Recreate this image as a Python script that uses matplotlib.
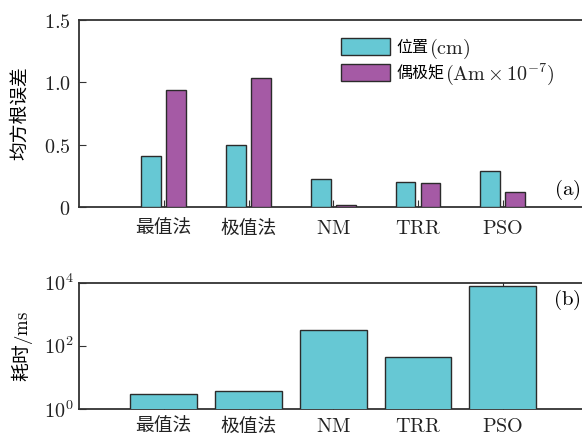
import matplotlib
matplotlib.use("Agg")
import matplotlib.pyplot as plt
import numpy as np

plt.rcParams['font.family'] = ['Noto Sans CJK SC', 'DejaVu Serif']
plt.rcParams['mathtext.fontset'] = 'cm'

methods = ['最值法', '极值法', 'NM', 'TRR', 'PSO']
rmse_position = [0.41, 0.497, 0.228, 0.20, 0.289]
rmse_moment = [0.936, 1.032, 0.014, 0.19, 0.12]
time_ms = [2.98, 3.87, 320, 44, 8040]
# legend entries: Chinese name + unit (unit typeset in Computer Modern)
series_names = ['位置', '偶极矩']
series_units = ['$\\mathrm{(cm)}$',
                '$\\mathrm{(Am}\\,{\\times}\\,10^{-7}\\mathrm{)}$']
panel_tags = ['$\\mathrm{(a)}$', '$\\mathrm{(b)}$']


def tick_text(s):
    # Latin labels go through mathtext so they come out in Computer Modern
    return s if any(ord(c) > 127 for c in s) else '$\\mathrm{%s}$' % s


cyan = '#66C8D4'
purple = '#A55AA5'
edge = '#2b2b2b'
spine_c = '#333333'

fig = plt.figure(figsize=(5.82, 4.38), dpi=100)
W = 6 * 84.75 / 582
ax1 = fig.add_axes([79 / 582, 1 - 207 / 438, W, (207 - 20) / 438])
ax2 = fig.add_axes([79 / 582, 1 - 409.3 / 438, W, (409.3 - 282.7) / 438])

x = np.arange(1, len(methods) + 1)
bw = 0.235
off = 0.147

ax1.bar(x - off, rmse_position, bw, color=cyan, edgecolor=edge, linewidth=1.0,
        label=series_names[0], zorder=3)
ax1.bar(x + off, rmse_moment, bw, color=purple, edgecolor=edge, linewidth=1.0,
        label=series_names[1], zorder=3)
ax1.set_xlim(0, 6)
ax1.set_ylim(0, 1.5)
ax1.set_yticks([0, 0.5, 1.0, 1.5])
ax1.set_yticklabels(['$0$', '$0.5$', '$1.0$', '$1.5$'])
ax1.set_ylabel('均方根误差', fontsize=13.5, labelpad=10)
ax1.text(5.92, 0.14, panel_tags[0], fontsize=15, ha='right', va='center')

leg = ax1.legend(loc='upper left', bbox_to_anchor=(0.502, 0.94), frameon=False,
                 fontsize=11.5, handlelength=3.1, handleheight=1.3,
                 handletextpad=0.4, labelspacing=0.52, borderaxespad=0)
leg.set_zorder(5)
for txt, unit in zip(leg.get_texts(), series_units):
    # drawn after the legend so the anchor text already has its position
    ax1.annotate(unit, xy=(1, 0), xycoords=txt, xytext=(0.5, 1.5),
                 textcoords='offset points', ha='left', va='baseline',
                 fontsize=14.5, color='#222222', zorder=6)

ax2.bar(x, time_ms, 0.79, color=cyan, edgecolor=edge, linewidth=1.0, zorder=3)
ax2.errorbar([x[-1]], [time_ms[-1]], yerr=[[0], [4000]], fmt='none',
             ecolor=edge, elinewidth=0.8, capsize=0, zorder=2)
ax2.set_yscale('log')
ax2.set_xlim(0, 6)
ax2.set_ylim(1, 1e4)
ax2.set_yticks([1, 1e2, 1e4])
ax2.set_yticklabels(['$10^0$', '$10^2$', '$10^4$'])
ax2.yaxis.set_minor_locator(matplotlib.ticker.NullLocator())
ax2.set_ylabel('耗时$\\mathrm{/ms}$', fontsize=13.5, labelpad=6)
ax2.text(5.92, 10 ** 3.44, panel_tags[1], fontsize=15, ha='right', va='center')

for ax, ypad, xpad in ((ax1, 6, 8), (ax2, 4, 5)):
    ax.set_xticks(x)
    ax.set_xticklabels([tick_text(m) for m in methods])
    ax.tick_params(axis='both', direction='in', length=5, width=0.8,
                   colors=spine_c, labelcolor='#222222', labelsize=14.5)
    ax.tick_params(axis='y', pad=ypad)
    ax.tick_params(axis='x', labelsize=13.5, pad=xpad)
    ax.spines['right'].set_visible(False)
    for s in ('left', 'top', 'bottom'):
        ax.spines[s].set_color(spine_c)
        ax.spines[s].set_linewidth(1.3)
    for lbl in ax.get_xticklabels():
        if lbl.get_text().startswith('$'):
            lbl.set_fontsize(14.5)

fig.savefig('out.png', dpi=100)
